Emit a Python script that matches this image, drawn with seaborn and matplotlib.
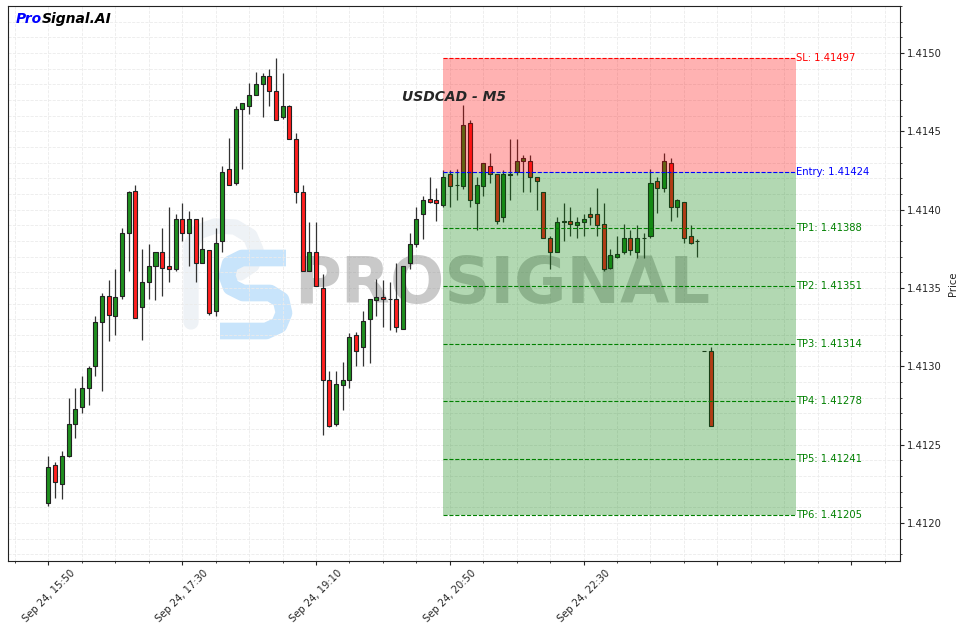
import numpy as np
import matplotlib
matplotlib.use('Agg')
import matplotlib.pyplot as plt
import seaborn as sns

# USDCAD M5 candles, Sep 24 from 15:50
opens = [1.41213, 1.41237, 1.41225, 1.41243, 1.41263, 1.41274, 1.41286, 1.41300, 1.41328, 1.41345,
         1.41332, 1.41345, 1.41385, 1.41412, 1.41338, 1.41354, 1.41364, 1.41373, 1.41364, 1.41362,
         1.41394, 1.41385, 1.41394, 1.41366, 1.41374, 1.41335, 1.41380, 1.41426, 1.41417, 1.41464,
         1.41466, 1.41473, 1.41480, 1.41485, 1.41476, 1.41459, 1.41466, 1.41445, 1.41411, 1.41361,
         1.41373, 1.41350, 1.41291, 1.41263, 1.41288, 1.41291, 1.41320, 1.41312, 1.41330, 1.41342,
         1.41344, 1.41343, 1.41343, 1.41324, 1.41366, 1.41378, 1.41397, 1.41407, 1.41406, 1.41403,
         1.41423, 1.41416, 1.41415, 1.41455, 1.41404, 1.41415, 1.41428, 1.41423, 1.41395, 1.41423,
         1.41424, 1.41431, 1.41431, 1.41421, 1.41411, 1.41382, 1.41373, 1.41392, 1.41393, 1.41390,
         1.41392, 1.41397, 1.41397, 1.41391, 1.41363, 1.41370, 1.41373, 1.41382, 1.41373, 1.41382,
         1.41383, 1.41418, 1.41414, 1.41430, 1.41402, 1.41405, 1.41383, 1.41380, 1.41310, 1.41310]
highs = [1.41243, 1.41239, 1.41246, 1.41280, 1.41286, 1.41294, 1.41300, 1.41332, 1.41347, 1.41355,
         1.41362, 1.41388, 1.41412, 1.41416, 1.41375, 1.41378, 1.41373, 1.41388, 1.41402, 1.41397,
         1.41404, 1.41399, 1.41394, 1.41395, 1.41374, 1.41388, 1.41428, 1.41446, 1.41466, 1.41468,
         1.41481, 1.41488, 1.41487, 1.41490, 1.41497, 1.41487, 1.41467, 1.41449, 1.41416, 1.41392,
         1.41392, 1.41359, 1.41297, 1.41297, 1.41303, 1.41321, 1.41322, 1.41335, 1.41343, 1.41356,
         1.41355, 1.41354, 1.41366, 1.41364, 1.41385, 1.41402, 1.41409, 1.41421, 1.41414, 1.41425,
         1.41425, 1.41426, 1.41467, 1.41457, 1.41421, 1.41430, 1.41436, 1.41423, 1.41425, 1.41445,
         1.41445, 1.41435, 1.41435, 1.41421, 1.41411, 1.41383, 1.41395, 1.41404, 1.41402, 1.41395,
         1.41397, 1.41402, 1.41414, 1.41404, 1.41375, 1.41383, 1.41391, 1.41387, 1.41390, 1.41385,
         1.41426, 1.41421, 1.41436, 1.41433, 1.41407, 1.41405, 1.41390, 1.41381, 1.41310, 1.41312]
lows = [1.41211, 1.41216, 1.41215, 1.41242, 1.41254, 1.41270, 1.41275, 1.41294, 1.41284, 1.41316,
        1.41320, 1.41343, 1.41361, 1.41331, 1.41317, 1.41343, 1.41342, 1.41345, 1.41354, 1.41361,
        1.41380, 1.41364, 1.41354, 1.41366, 1.41333, 1.41332, 1.41373, 1.41416, 1.41416, 1.41426,
        1.41461, 1.41473, 1.41459, 1.41466, 1.41457, 1.41458, 1.41445, 1.41404, 1.41361, 1.41361,
        1.41351, 1.41256, 1.41261, 1.41262, 1.41272, 1.41286, 1.41300, 1.41300, 1.41302, 1.41332,
        1.41325, 1.41323, 1.41322, 1.41324, 1.41362, 1.41376, 1.41381, 1.41404, 1.41393, 1.41402,
        1.41402, 1.41406, 1.41413, 1.41402, 1.41387, 1.41409, 1.41417, 1.41391, 1.41392, 1.41406,
        1.41422, 1.41411, 1.41411, 1.41400, 1.41382, 1.41362, 1.41373, 1.41380, 1.41383, 1.41382,
        1.41383, 1.41390, 1.41383, 1.41361, 1.41362, 1.41369, 1.41372, 1.41371, 1.41369, 1.41369,
        1.41382, 1.41398, 1.41411, 1.41393, 1.41395, 1.41379, 1.41378, 1.41370, 1.41310, 1.41262]
closes = [1.41236, 1.41226, 1.41243, 1.41263, 1.41273, 1.41286, 1.41299, 1.41328, 1.41345, 1.41333,
          1.41344, 1.41385, 1.41411, 1.41331, 1.41354, 1.41364, 1.41373, 1.41363, 1.41362, 1.41394,
          1.41385, 1.41394, 1.41366, 1.41375, 1.41334, 1.41379, 1.41424, 1.41416, 1.41464, 1.41468,
          1.41473, 1.41480, 1.41485, 1.41476, 1.41457, 1.41466, 1.41445, 1.41411, 1.41361, 1.41373,
          1.41351, 1.41291, 1.41262, 1.41289, 1.41291, 1.41319, 1.41310, 1.41329, 1.41343, 1.41344,
          1.41343, 1.41343, 1.41325, 1.41364, 1.41378, 1.41394, 1.41406, 1.41405, 1.41404, 1.41421,
          1.41415, 1.41416, 1.41454, 1.41406, 1.41416, 1.41430, 1.41423, 1.41393, 1.41423, 1.41422,
          1.41431, 1.41433, 1.41421, 1.41418, 1.41382, 1.41373, 1.41392, 1.41393, 1.41391, 1.41392,
          1.41394, 1.41395, 1.41390, 1.41362, 1.41371, 1.41372, 1.41382, 1.41374, 1.41382, 1.41382,
          1.41417, 1.41414, 1.41431, 1.41402, 1.41406, 1.41382, 1.41379, 1.41380, 1.41310, 1.41262]

tick_labels = ['Sep 24, 15:50', 'Sep 24, 17:30', 'Sep 24, 19:10', 'Sep 24, 20:50',
               'Sep 24, 22:30', '', '']

entry = 1.41424
stop_loss = 1.41497
take_profits = [1.41388, 1.41351, 1.41314, 1.41278, 1.41241, 1.41205]
symbol = 'USDCAD - M5'

sns.set_style('white')
plt.rcParams['font.family'] = ['DejaVu Sans']

W, H = 963, 631
fig = plt.figure(figsize=(W / 100, H / 100), dpi=100)
ax = fig.add_axes([8 / W, 1 - 561 / H, 892 / W, 555 / H])


def ax_pt(px, py):
    # pixel position in the picture -> axes fraction (for the watermark logo only)
    return (px - 8) / 892, (561 - py) / 555


x = np.arange(len(opens))
o = np.array(opens)
c = np.array(closes)
colors = np.where(c >= o, '#1f8f1f', '#ff1f1f')

# watermark logo behind the candles
p_pts = [ax_pt(*p) for p in [(191, 322), (191, 245), (198, 232), (215, 226), (235, 227),
                             (250, 236), (256, 250), (252, 265), (240, 273)]]
ax.plot(*zip(*p_pts), transform=ax.transAxes, color='#eef2f6', lw=11,
        solid_capstyle='round', solid_joinstyle='round', zorder=0)
s_pts = [ax_pt(*p) for p in [(286, 258), (242, 258), (230, 264), (227, 276), (231, 287),
                             (243, 293), (270, 293), (281, 300), (284, 313), (279, 325),
                             (266, 331), (220, 331)]]
ax.plot(*zip(*s_pts), transform=ax.transAxes, color='#c8e4fb', lw=12,
        solid_capstyle='butt', solid_joinstyle='round', zorder=0.5)
ax.text(0.554, 0.497, 'PROSIGNAL', transform=ax.transAxes, fontsize=46, fontweight='bold',
        color='gray', alpha=0.42, ha='center', va='center', zorder=1)

ax.vlines(x, lows, highs, color='#333333', linewidth=0.9, zorder=2)
ax.bar(x, c - o, bottom=o, width=0.6, color=colors, edgecolor='#222222',
       linewidth=0.8, zorder=3)

x0, x1 = 59, 111.7
ax.fill_between([x0, x1], entry, stop_loss, color='red', alpha=0.3, linewidth=0, zorder=4)
ax.fill_between([x0, x1], take_profits[-1], entry, color='green', alpha=0.3, linewidth=0, zorder=4)

ax.hlines(stop_loss, x0, x1, colors='red', linestyles='--', linewidth=0.8, zorder=5)
ax.text(x1, stop_loss, f'SL: {stop_loss:.5f}', color='red', fontsize=7.2, va='center', ha='left')
ax.hlines(entry, x0, x1, colors='blue', linestyles='--', linewidth=0.8, zorder=5)
ax.text(x1, entry, f'Entry: {entry:.5f}', color='blue', fontsize=7.2, va='center', ha='left')
for k, tp in enumerate(take_profits, start=1):
    ax.hlines(tp, x0, x1, colors='green', linestyles='--', linewidth=0.8, zorder=5)
    ax.text(x1, tp, f'TP{k}: {tp:.5f}', color='green', fontsize=7.2, va='center', ha='left')

ax.set_xlim(-6.05, 127.3)
ax.set_ylim(1.411757, 1.415272)

ax.set_xticks(np.arange(0, 121, 20))
ax.set_xticklabels(tick_labels, rotation=45, ha='center', fontsize=7.2)
ax.set_xticks(np.arange(-5, 127, 5), minor=True)
ax.set_yticks(np.arange(1.4120, 1.41501, 0.0005))
ax.set_yticks(np.arange(1.4118, 1.41531, 0.0001), minor=True)
ax.yaxis.set_major_formatter(matplotlib.ticker.FormatStrFormatter('%.4f'))
ax.yaxis.tick_right()
ax.yaxis.set_label_position('right')
ax.set_ylabel('Price', fontsize=7.2, labelpad=4)
ax.tick_params(axis='both', which='both', direction='out', labelsize=7.2,
               bottom=True, right=True, left=False, pad=2.5)
ax.tick_params(which='major', length=2.6)
ax.tick_params(which='minor', length=1.3)
ax.grid(True, which='both', color='#ebebeb', linestyle='--', linewidth=0.6)
for s in ax.spines.values():
    s.set_visible(True)
    s.set_color('#222222')
    s.set_linewidth(0.8)

ax.text(0.5, 0.836, symbol, transform=ax.transAxes, fontsize=10, fontweight='bold',
        fontstyle='italic', ha='center', va='center', zorder=6)
t1 = ax.text(0.009, 0.976, 'Pro', transform=ax.transAxes, fontsize=10, fontweight='bold',
             fontstyle='italic', color='blue', ha='left', va='center', zorder=6)
fig.canvas.draw()
bb = t1.get_window_extent().transformed(ax.transAxes.inverted())
ax.text(bb.x1, 0.976, 'Signal.AI', transform=ax.transAxes, fontsize=10, fontweight='bold',
        fontstyle='italic', color='black', ha='left', va='center', zorder=6)

fig.savefig('out.png', dpi=100)
